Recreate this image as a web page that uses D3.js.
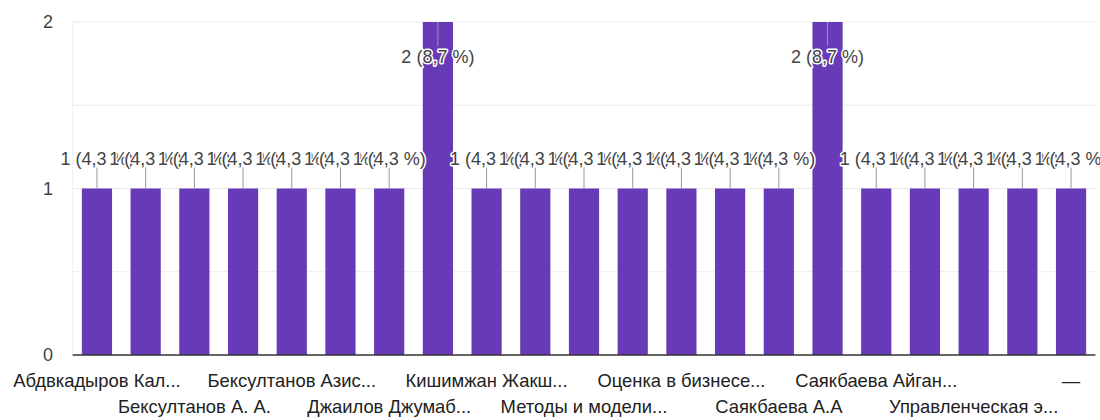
<!DOCTYPE html>
<html>
<head>
<meta charset="utf-8">
<script src="https://cdn.jsdelivr.net/npm/d3@7"></script>
<style>
  body { margin: 0; background: #fff; }
  svg { font-family: "Liberation Sans", Arial, sans-serif; }
</style>
</head>
<body>
<div id="vis"></div>
<script>
// categories (Google Forms sorts answers alphabetically)
var categories = [
  "Абдвкадыров Кал...", "Абдыкадыров К.К.", "Бексултанов А. А.", "Бексултанов А.А.",
  "Бексултанов Азис...", "Джаилов Д.Т.", "Джаилов Джумаб...", "Иманалиева Г.К.",
  "Кишимжан Жакш...", "Макроэкономика", "Методы и модели...", "Микроэкономика",
  "Оценка в бизнесе...", "Садыкова Н.Б.", "Саякбаева А.А", "Саякбаева А. А.",
  "Саякбаева Айган...", "Токтосунова Г.М.", "Управленческая э...", "Финансовый менеджмент",
  "—"
];
var counts = [1, 1, 1, 1, 1, 1, 1, 2, 1, 1, 1, 1, 1, 1, 1, 2, 1, 1, 1, 1, 1];
var yTicks = [0, 1, 2];
var yGrid = [0.5, 1, 1.5, 2];

var W = 1100, H = 420;
var pl = 72.6, pr = 1095.4, pt = 22, pb = 355;   // plot edges

var total = d3.sum(counts);
function pct(v) { return (Math.round(v / total * 1000) / 10).toString().replace(".", ",") + " %"; }

var svg = d3.select("#vis").append("svg")
  .attr("width", W)
  .attr("height", H);

var x = d3.scaleBand()
  .domain(d3.range(categories.length))
  .range([pl, pr])
  .paddingInner(0.38)
  .paddingOuter(0.19);

var y = d3.scaleLinear()
  .domain([0, 2])
  .range([pb, pt]);

// grid
svg.append("g").selectAll("line")
  .data(yGrid)
  .enter().append("line")
  .attr("x1", pl).attr("x2", pr)
  .attr("y1", function(d){ return y(d) }).attr("y2", function(d){ return y(d) })
  .attr("stroke", "#ebebeb").attr("stroke-width", 1.2);

svg.append("line")
  .attr("x1", pl).attr("x2", pl)
  .attr("y1", pt).attr("y2", pb)
  .attr("stroke", "#f0f0f0").attr("stroke-width", 1);

// y axis labels
var ya = svg.append("g")
  .attr("transform", "translate(53,0)")
  .call(d3.axisLeft(y).tickValues(yTicks).tickSize(0).tickPadding(0).tickFormat(d3.format("d")));
ya.select(".domain").remove();
ya.selectAll("text")
  .attr("font-size", 18)
  .attr("font-family", "Liberation Sans, Arial, sans-serif")
  .attr("fill", "#444");

// bars
svg.append("g").selectAll("rect")
  .data(counts)
  .enter().append("rect")
  .attr("x", function(d, i){ return x(i) })
  .attr("y", function(d){ return y(d) })
  .attr("width", x.bandwidth())
  .attr("height", function(d){ return pb - y(d) })
  .attr("fill", "#673ab7");

// baseline
svg.append("line")
  .attr("x1", pl).attr("x2", pr)
  .attr("y1", pb).attr("y2", pb)
  .attr("stroke", "#333").attr("stroke-width", 1.5);

// value labels with leader lines (inside the bar when there is no room above)
var lab = svg.append("g").selectAll("g")
  .data(counts)
  .enter().append("g")
  .attr("transform", function(d, i){ return "translate(" + (x(i) + x.bandwidth() / 2) + ",0)" });

lab.each(function(d) {
  var g = d3.select(this);
  var yt = y(d);
  var inside = yt - 36 < 0;
  var l1 = inside ? yt : yt - 21;
  var l2 = inside ? yt + 24 : yt;
  var base = inside ? yt + 41 : yt - 24;
  g.append("line")
    .attr("y1", l1).attr("y2", l2)
    .attr("stroke", "#999").attr("stroke-width", 1);
  g.append("text")
    .attr("y", base)
    .attr("text-anchor", "middle")
    .attr("font-size", 18)
    .attr("fill", "#444")
    .attr("stroke", "#fff")
    .attr("stroke-width", 3)
    .attr("paint-order", "stroke")
    .attr("stroke-linejoin", "round")
    .text(d + " (" + pct(d) + ")");
});

// x axis labels: every second category, alternating rows
var xa = svg.append("g")
  .attr("transform", "translate(0," + pb + ")")
  .call(d3.axisBottom(x).tickSize(0).tickFormat(function(i){ return i % 2 === 0 ? categories[i] : "" }));
xa.select(".domain").remove();
xa.selectAll("text")
  .attr("font-size", 18.4)
  .attr("font-family", "Liberation Sans, Arial, sans-serif")
  .attr("fill", "#222")
  .attr("dy", 0)
  .attr("y", function(i){ return (i / 2) % 2 === 0 ? 32 : 58 });
</script>
</body>
</html>
